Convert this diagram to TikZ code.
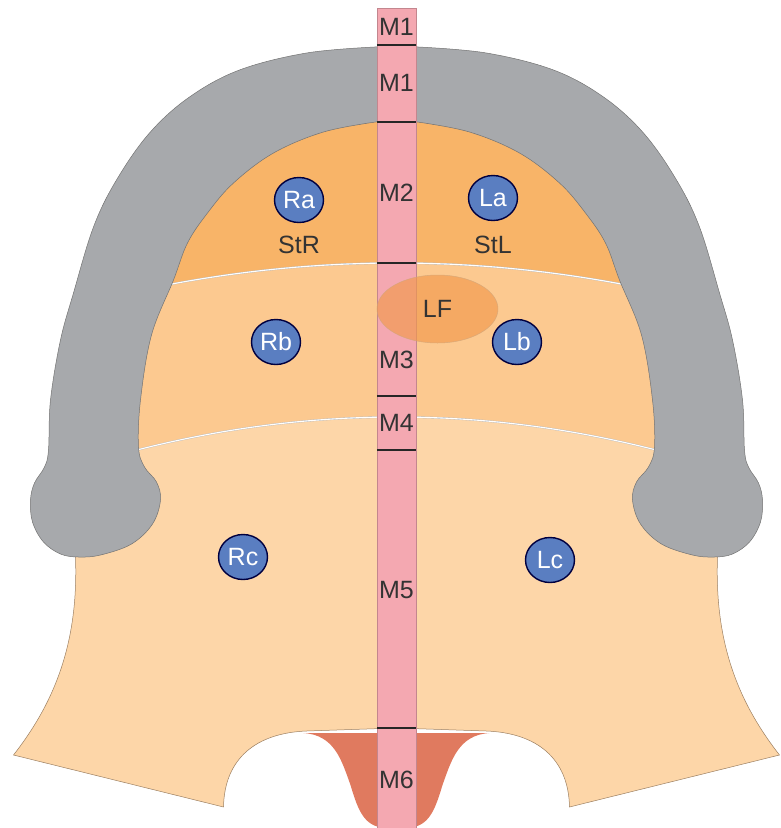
\documentclass[tikz,border=0pt]{standalone}
\usepackage{fontspec}
\setmainfont{Liberation Sans}
\usetikzlibrary{shapes.geometric}
\definecolor{archgray}{HTML}{A7A9AC}
\definecolor{topband}{HTML}{F8B468}
\definecolor{midband}{HTML}{FCC990}
\definecolor{bodypeach}{HTML}{FDD6A8}
\definecolor{stripink}{HTML}{F4A8B1}
\definecolor{tonguered}{HTML}{E07A5F}
\definecolor{spotblue}{HTML}{5A7EC1}
\definecolor{glandorange}{HTML}{F2994B}
\definecolor{inkgray}{HTML}{333333}
\tikzset{>=stealth,
  body/.style={fill=bodypeach, draw=brown!45!gray, line width=0.5pt},
  arch/.style={fill=archgray, draw=gray!90!black, line width=0.5pt},
  seam/.style={draw=gray!55, double=white, double distance=1.1pt, line width=0.35pt},
  strip/.style={fill=stripink, draw=stripink!80!black, line width=0.4pt},
  divider/.style={draw=black!85, line width=2.4pt},
  spot/.style={ellipse, fill=spotblue, draw=black!75!blue, line width=1.4pt,
    minimum width=49pt, minimum height=45pt, inner sep=0pt, text=white},
  gland/.style={ellipse, fill=glandorange, fill opacity=0.65, text opacity=1,
    draw=brown!70, draw opacity=0.8, line width=0.5pt,
    minimum width=121pt, minimum height=68pt, text=inkgray},
  tag/.style={text=inkgray, inner sep=0pt}}
\newcommand\bodyhalf{(0,80) -- (-60,85) -- (-150,105) -- (-230,160) -- (-280,240)
  -- (-300,330) -- (-305,450) -- (-321,557)
  .. controls (-318,640) and (-340,700) .. (-383,755) -- (-173,807)
  .. controls (-172,758) and (-140,733) .. (-90,731) -- (0,728) -- cycle}

\begin{document}
\begin{tikzpicture}[x=1pt, y=-1pt, font=\fontsize{25}{29}\selectfont]
\useasboundingbox (-396.5,0) rectangle (384.5,828);
\foreach \s in {1,-1}{
  \begin{scope}[xscale=\s]
    \filldraw[body] \bodyhalf;
    \begin{scope}
      \clip \bodyhalf;
      \fill[midband] (0,0) -- (0,417) .. controls (-96.7,417) and (-193.3,430.7)
        .. (-290,458.2) -- (-400,458.2) -- (-400,0) -- cycle;
      \fill[topband] (0,0) -- (0,263) .. controls (-83.3,263) and (-166.7,271.7)
        .. (-250,289) -- (-400,289) -- (-400,0) -- cycle;
    \end{scope}
    \draw[seam] (0,263) .. controls (-83.3,263) and (-166.7,271.7) .. (-250,289);
    \draw[seam] (0,417) .. controls (-96.7,417) and (-193.3,430.7) .. (-290,458.2);
    \filldraw[arch] (0,46) -- plot[smooth, tension=0.6] coordinates {(-22,47) (-90,53)
      (-157,70) (-207,97) (-247,133) (-280,180) (-303,227) (-323,293) (-336,340)
      (-346,400) (-348,450) (-352,467) (-362,483) (-366,500) (-364,522) (-353,542)
      (-336,554) (-318,557) (-296,555) (-265,544) (-244,524) (-236,500) (-240,482)
      (-252,467) (-258,447) (-256,400) (-245,335) (-223,280) (-209,243) (-189,213)
      (-163,183) (-123,153) (-73,132) (-21,122)} -- (0,121) -- cycle;
    \fill[tonguered] (0,733) -- (-93,733) .. controls (-62,735) and (-55,760) .. (-46,785)
      .. controls (-38,812) and (-32,826) .. (-12,828) -- (0,828) -- cycle;
  \end{scope}
}
\filldraw[strip] (-19.5,8) rectangle (19.5,828);
\foreach \y in {45,122,263,396,450,728}
  \draw[divider] (-19.5,\y) -- (19.5,\y);

\node[tag] (m1a) at (0,27) {M1};
\node[tag] (m1b) at (0,83) {M1};
\node[tag] (m2) at (0,193) {M2};
\node[tag] (m3) at (0,360) {M3};
\node[tag] (m4) at (0,423) {M4};
\node[tag] (m5) at (0,590) {M5};
\node[tag] (m6) at (0,780) {M6};

\node[gland] (lf) at (41,309) {LF};

\node[spot] (ra) at (-97.5,200) {Ra};
\node[spot] (la) at (96.5,198) {La};
\node[tag] (str) at (-97.5,245) {StR};
\node[tag] (stl) at (96.5,245) {StL};
\node[spot] (rb) at (-120.5,342) {Rb};
\node[spot] (lb) at (120.5,342) {Lb};
\node[spot] (rc) at (-153.5,557) {Rc};
\node[spot] (lc) at (153.5,560) {Lc};
\end{tikzpicture}
\end{document}
